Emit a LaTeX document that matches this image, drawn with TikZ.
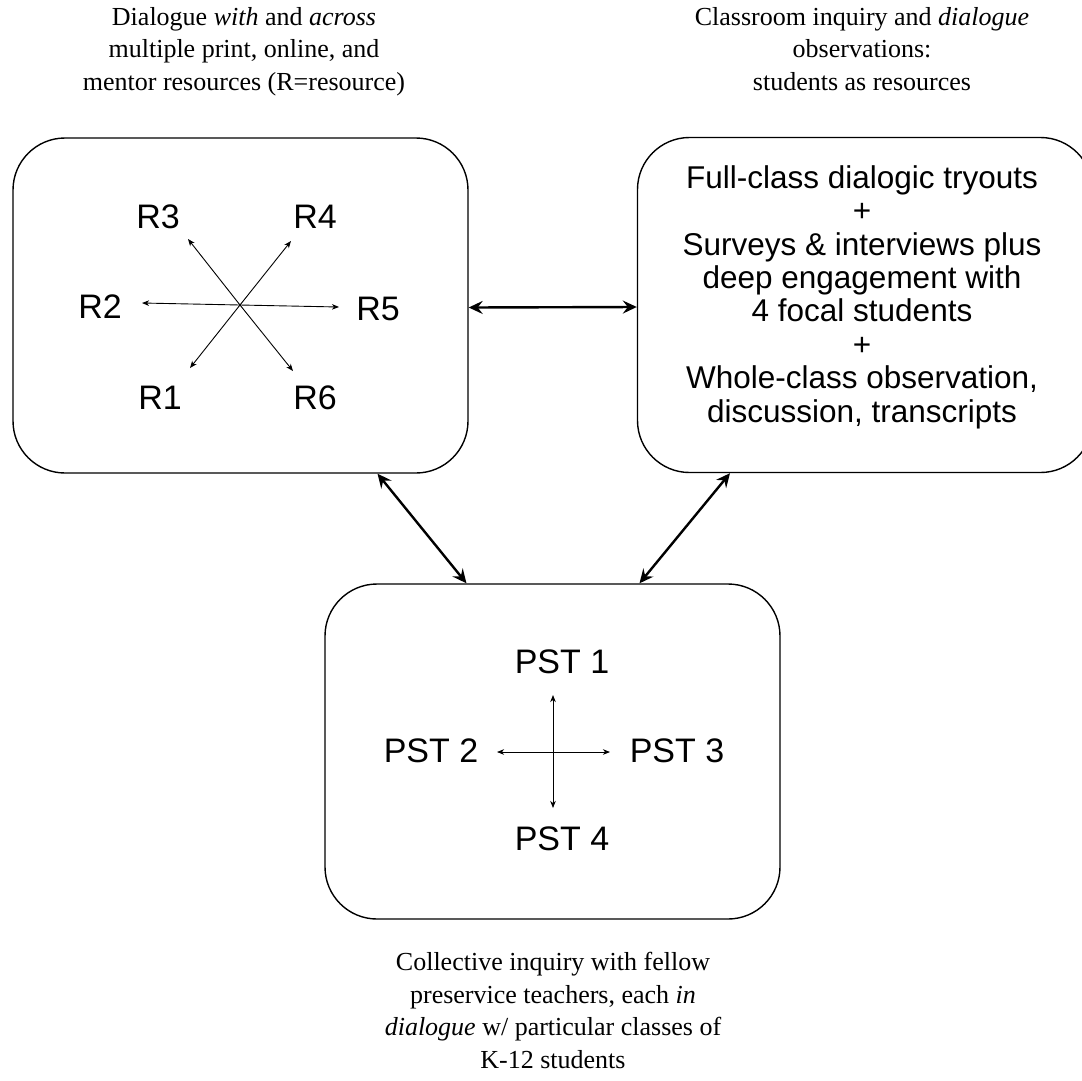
\documentclass[tikz,border=0pt]{standalone}
\usepackage{fontspec}
\setmainfont{Liberation Serif}
\setsansfont{Liberation Sans}
\usetikzlibrary{arrows.meta}
\tikzset{
  box/.style={draw, line width=1.4pt, rounded corners=52pt, minimum width=455pt, minimum height=335pt, inner sep=0pt},
  bigarrow/.style={line width=2.4pt, {Stealth[length=14pt,width=13pt,inset=5pt]}-{Stealth[length=14pt,width=13pt,inset=5pt]}},
  thinarrow/.style={line width=0.9pt, -{Stealth[length=7pt,width=5.5pt,inset=2pt]}},
  thinboth/.style={line width=0.9pt, {Stealth[length=7pt,width=5.5pt,inset=2pt]}-{Stealth[length=7pt,width=5.5pt,inset=2pt]}},
  lbl/.style={font=\sffamily\fontsize{34pt}{36pt}\selectfont, inner sep=0pt},
  pstlbl/.style={font=\sffamily\fontsize{34pt}{36pt}\selectfont, inner sep=0pt},
  captxt/.style={font=\fontsize{26pt}{32.5pt}\selectfont, align=center, inner sep=0pt},
  inbox/.style={font=\sffamily\fontsize{31.5pt}{33.4pt}\selectfont, align=center, inner sep=0pt}
}
\begin{document}
\begin{tikzpicture}[x=1pt,y=-1pt]
\useasboundingbox (0,0) rectangle (1082,1080);
\clip (0,0) rectangle (1082,1080);

% boxes
\node[box] (L) at (240.5,305.5) {};
\node[box] (R) at (865,305) {};
\node[box] (B) at (552.5,751.5) {};

% captions
\node[captxt, anchor=north] (capL) at (244,7) {Dialogue \textit{with} and \textit{across}\\multiple print, online, and\\mentor resources (R=resource)};
\node[captxt, anchor=north] (capR) at (862,7) {Classroom inquiry and \textit{dialogue}\\observations:\\students as resources};
\node[captxt, anchor=north] (capB) at (553,952) {Collective inquiry with fellow\\preservice teachers, each \textit{in}\\\textit{dialogue} w/ particular classes of\\K-12 students};

% right box text
\node[inbox] (Rtxt) at (862,297) {Full-class dialogic tryouts\\+\\Surveys \& interviews plus\\deep engagement with\\4 focal students\\+\\Whole-class observation,\\discussion, transcripts};

% resources star
\coordinate (c) at (240,305);
\node[lbl] (R1) at (160,398) {R1};
\node[lbl] (R2) at (100,307) {R2};
\node[lbl] (R3) at (158,217) {R3};
\node[lbl] (R4) at (315,217) {R4};
\node[lbl] (R5) at (378,309) {R5};
\node[lbl] (R6) at (315,398) {R6};
\coordinate (t1) at (190,368);
\coordinate (t2) at (142,303);
\coordinate (t3) at (188,239);
\coordinate (t4) at (291,241);
\coordinate (t5) at (339,307);
\coordinate (t6) at (293,371);
\foreach \t in {t1,t2,t3,t4,t5,t6} \draw[thinarrow] (c) -- (\t);

% PST cross
\node[pstlbl] (P1) at (562,662) {PST 1};
\node[pstlbl] (P2) at (431,751) {PST 2};
\node[pstlbl] (P3) at (677,751) {PST 3};
\node[pstlbl] (P4) at (562,839) {PST 4};
\coordinate (pu) at (553,695);
\coordinate (pd) at (553,808);
\coordinate (pl) at (497,752);
\coordinate (pr) at (610,752);
\draw[thinboth] (pu) -- (pd);
\draw[thinboth] (pl) -- (pr);

% big connectors
\draw[bigarrow] ([yshift=-2pt]L.east) -- ([yshift=-2pt]R.west);
\draw[bigarrow] ([xshift=137pt]L.south) -- ([xshift=-86pt]B.north);
\draw[bigarrow] ([xshift=-135pt]R.south) -- ([xshift=87pt]B.north);
\end{tikzpicture}
\end{document}
